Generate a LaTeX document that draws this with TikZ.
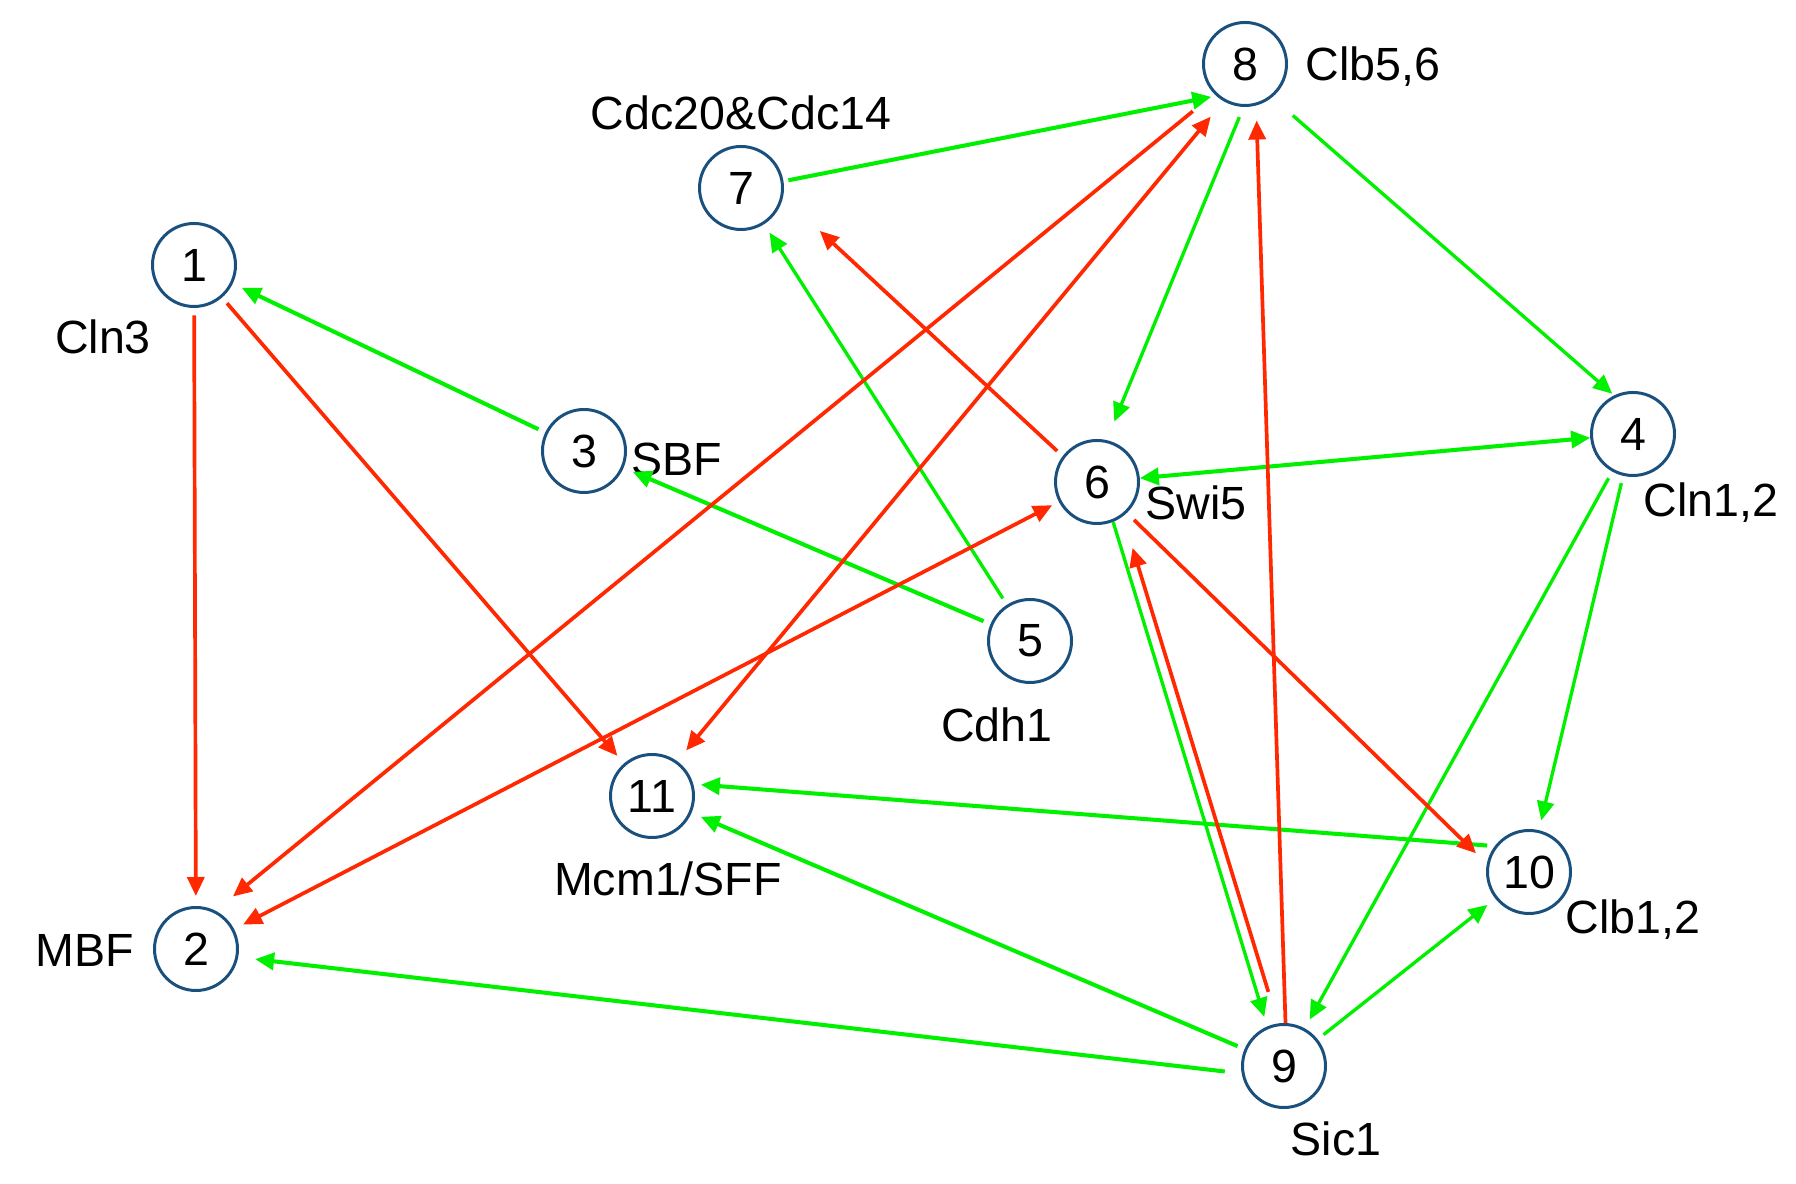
\documentclass[tikz,border=0pt]{standalone}
\usepackage{fontspec}
\setmainfont{Liberation Sans}
\usetikzlibrary{arrows.meta}
\definecolor{nodeblue}{RGB}{26,80,125}
\definecolor{actgreen}{RGB}{0,240,0}
\definecolor{inhred}{RGB}{255,40,0}

\begin{document}
\begin{tikzpicture}[
	>={Triangle[length=0.38cm,width=0.34cm]},
	every node/.style={font=\fontsize{26.5pt}{30pt}\selectfont},
	gene/.style={circle, draw=nodeblue, line width=1.7pt, minimum size=1.66cm, inner sep=0pt},
	act/.style={->, draw=actgreen, fill=actgreen, line width=1.9pt, shorten <=0.15cm, shorten >=0.2cm},
	actb/.style={act, line width=2.3pt},
	inh/.style={->, draw=inhred, fill=inhred, line width=2.1pt, shorten <=0.15cm, shorten >=0.2cm}
	]
			%%%%% START %%%%%
			
			\useasboundingbox (0, 0) rectangle (35.92, 23.68);
			
			\node[gene] (n1) at (3.88, 18.38) {1};
			\node[gene] (n2) at (3.92, 4.70) {2};
			\node[gene] (n3) at (11.68, 14.66) {3};
			\node[gene] (n4) at (32.66, 15.00) {4};
			\node[gene] (n5) at (20.60, 10.86) {5};
			\node[gene] (n6) at (21.94, 14.04) {6};
			\node[gene] (n7) at (14.82, 19.92) {7};
			\node[gene] (n8) at (24.90, 22.40) {8};
			\node[gene] (n9) at (25.68, 2.36) {9};
			\node[gene] (n10) at (30.58, 6.24) {10};
			\node[gene] (n11) at (13.04, 7.76) {11};
			
			\node (cln3) at (2.06, 16.94) {Cln3};
			\node (mbf) at (1.70, 4.68) {MBF};
			\node (sbf) at (13.54, 14.50) {SBF};
			\node (cln12) at (34.22, 13.62) {Cln1,2};
			\node (cdh1) at (19.94, 9.18) {Cdh1};
			\node (swi5) at (23.92, 13.62) {Swi5};
			\node (cdc) at (14.82, 21.42) {Cdc20\&Cdc14};
			\node (clb56) at (27.46, 22.34) {Clb5,6};
			\node (clb12) at (32.66, 5.28) {Clb1,2};
			\node (sic1) at (26.72, 0.90) {Sic1};
			\node (mcm) at (13.36, 6.10) {Mcm1/SFF};
			
			% activation
			\draw[actb] (n3) -- (n1);
			\draw[actb] (n5) -- (n3);
			\draw[act] (n5) -- (n7);
			\draw[actb, shorten <=0.1cm, shorten >=0.1cm] (n7.9) -- (n8.228);
			\draw[act, shorten <=0.22cm, shorten >=0.4cm] (n8.-92) -- (n6.77);
			\draw[act, shorten <=0.55cm, shorten >=0.05cm] (n8.-51) -- (n4.116);
			\draw[actb, <->, shorten <=0pt, shorten >=0pt] (n6) -- (n4);
			\draw[act] (n4) -- (n9);
			\draw[act] (n4) -- (n10);
			\draw[act, shorten <=0pt] (n6.-68) -- (n9.113);
			\draw[act] (n9) -- (n10);
			\draw[actb] (n9) -- (n11);
			\draw[actb, shorten <=0.15cm, shorten >=0.15cm] (n10.143) -- (n11.16);
			\draw[actb, shorten <=0.34cm, shorten >=0.34cm] (n9.190) -- (n2.-11);
			
			% inhibition
			\draw[inh] (n1) -- (n2);
			\draw[inh] (n1) -- (n11);
			\draw[inh, shorten <=0.55cm, shorten >=0.45cm] (n8.224) -- (n2.63);
			\draw[inh, <->, shorten <=0.4cm, shorten >=0.28cm] (n8.240) -- (n11.54);
			\draw[inh, <->] (n6) -- (n2);
			\draw[inh, shorten <=0.15cm, shorten >=1.0cm] (n6.143) -- (n7.-12);
			\draw[inh, shorten <=0.2cm, shorten >=0.3cm] (n6.-46) -- (n10.169);
			\draw[inh, shorten <=0pt, shorten >=0.3cm] (n9.88) -- (n8.-75);
			\draw[inh, shorten <=0.66cm, shorten >=0.66cm] (n9.98) -- (n6.-53);
			
			%%%%% END %%%%%
\end{tikzpicture}
\end{document}
